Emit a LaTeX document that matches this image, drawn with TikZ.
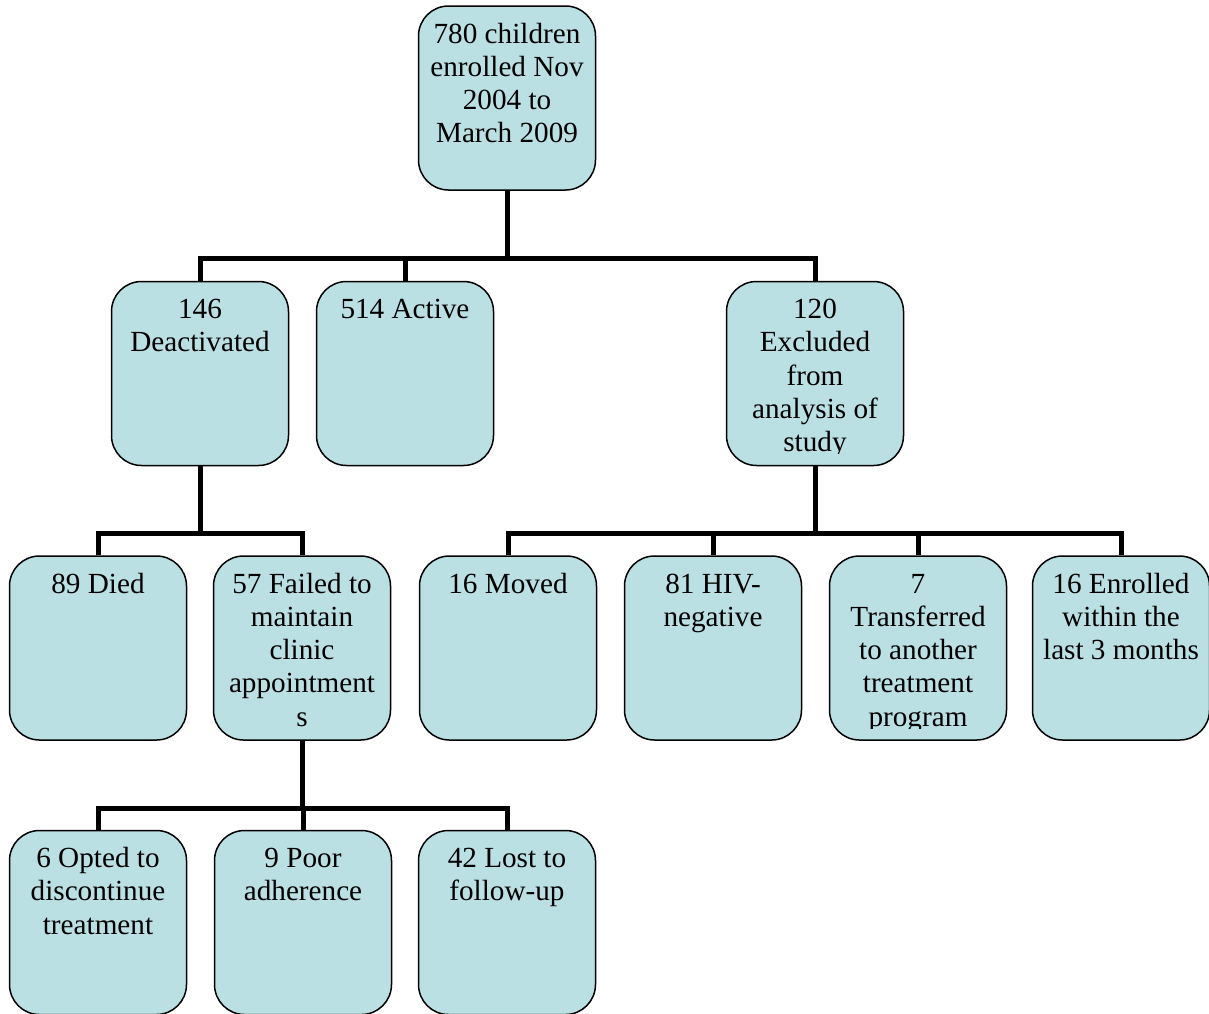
\documentclass[tikz,border=0pt]{standalone}
\usepackage{fontspec}
\setmainfont{Liberation Serif}
\usepackage{trimclip}
\usetikzlibrary{positioning}

\definecolor{boxblue}{RGB}{187,224,227}
% text sits at the top of the box and is cut near its lower edge
\newcommand{\boxtxt}[1]{\parbox[c][92pt][t]{88.5pt}{\noindent\clipbox{0pt 6pt 0pt 0pt}{\parbox[b][92pt][t]{88.5pt}{\centering\rule{0pt}{18.5pt}#1}}}}

\tikzset{
  box/.style={draw=black, line width=0.75pt, fill=boxblue, rounded corners=15pt,
    inner sep=0pt, minimum width=88.5pt, minimum height=92pt,
    font=\fontsize{14.6pt}{16.65pt}\selectfont},
  link/.style={line width=2.5pt, line join=miter}
}

\begin{document}
\begin{tikzpicture}[x=0.5pt, y=-0.5pt]
        \useasboundingbox (0,0) rectangle (1209,1013);
        \node[box] (top)    at (507,98)     {\boxtxt{780 children\\enrolled Nov\\2004 to\\March 2009}};
        \node[box] (deact)  at (200,373.5)  {\boxtxt{146\\Deactivated}};
        \node[box] (active) at (405,373.5)  {\boxtxt{514 Active}};
        \node[box] (excl)   at (815,373.5)  {\boxtxt{120\\Excluded\\from\\analysis of\\study}};
        \node[box] (died)   at (98,648)     {\boxtxt{89 Died}};
        \node[box] (failed) at (302,648)    {\boxtxt{57 Failed to\\maintain\\clinic\\appointment\\s}};
        \node[box] (moved)  at (508,648)    {\boxtxt{16 Moved}};
        \node[box] (hiv)    at (713,648)    {\boxtxt{81 HIV-\\negative}};
        \node[box] (transf) at (918,648)    {\boxtxt{7\\Transferred\\to another\\treatment\\program}};
        \node[box] (enrol)  at (1121,648)   {\boxtxt{16 Enrolled\\within the\\last 3 months}};
        \node[box] (opted)  at (98,922.5)   {\boxtxt{6 Opted to\\discontinue\\treatment}};
        \node[box] (poor)   at (303,922.5)  {\boxtxt{9 Poor\\adherence}};
        \node[box] (lost)   at (507,922.5)  {\boxtxt{42 Lost to\\follow-up}};
        % bus levels
        \coordinate (bus1) at (0,258);
        \coordinate (bus2) at (0,533);
        \coordinate (bus3) at (0,808);
        \foreach \c in {deact,active,excl}
          \draw[link] (top.south) |- (bus1 -| \c) -- (\c.north);
        \foreach \c in {died,failed}
          \draw[link] (deact.south) |- (bus2 -| \c) -- (\c.north);
        \foreach \c in {moved,hiv,transf,enrol}
          \draw[link] (excl.south) |- (bus2 -| \c) -- (\c.north);
        \foreach \c in {opted,poor,lost}
          \draw[link] (failed.south) |- (bus3 -| \c) -- (\c.north);
    \end{tikzpicture}
\end{document}
